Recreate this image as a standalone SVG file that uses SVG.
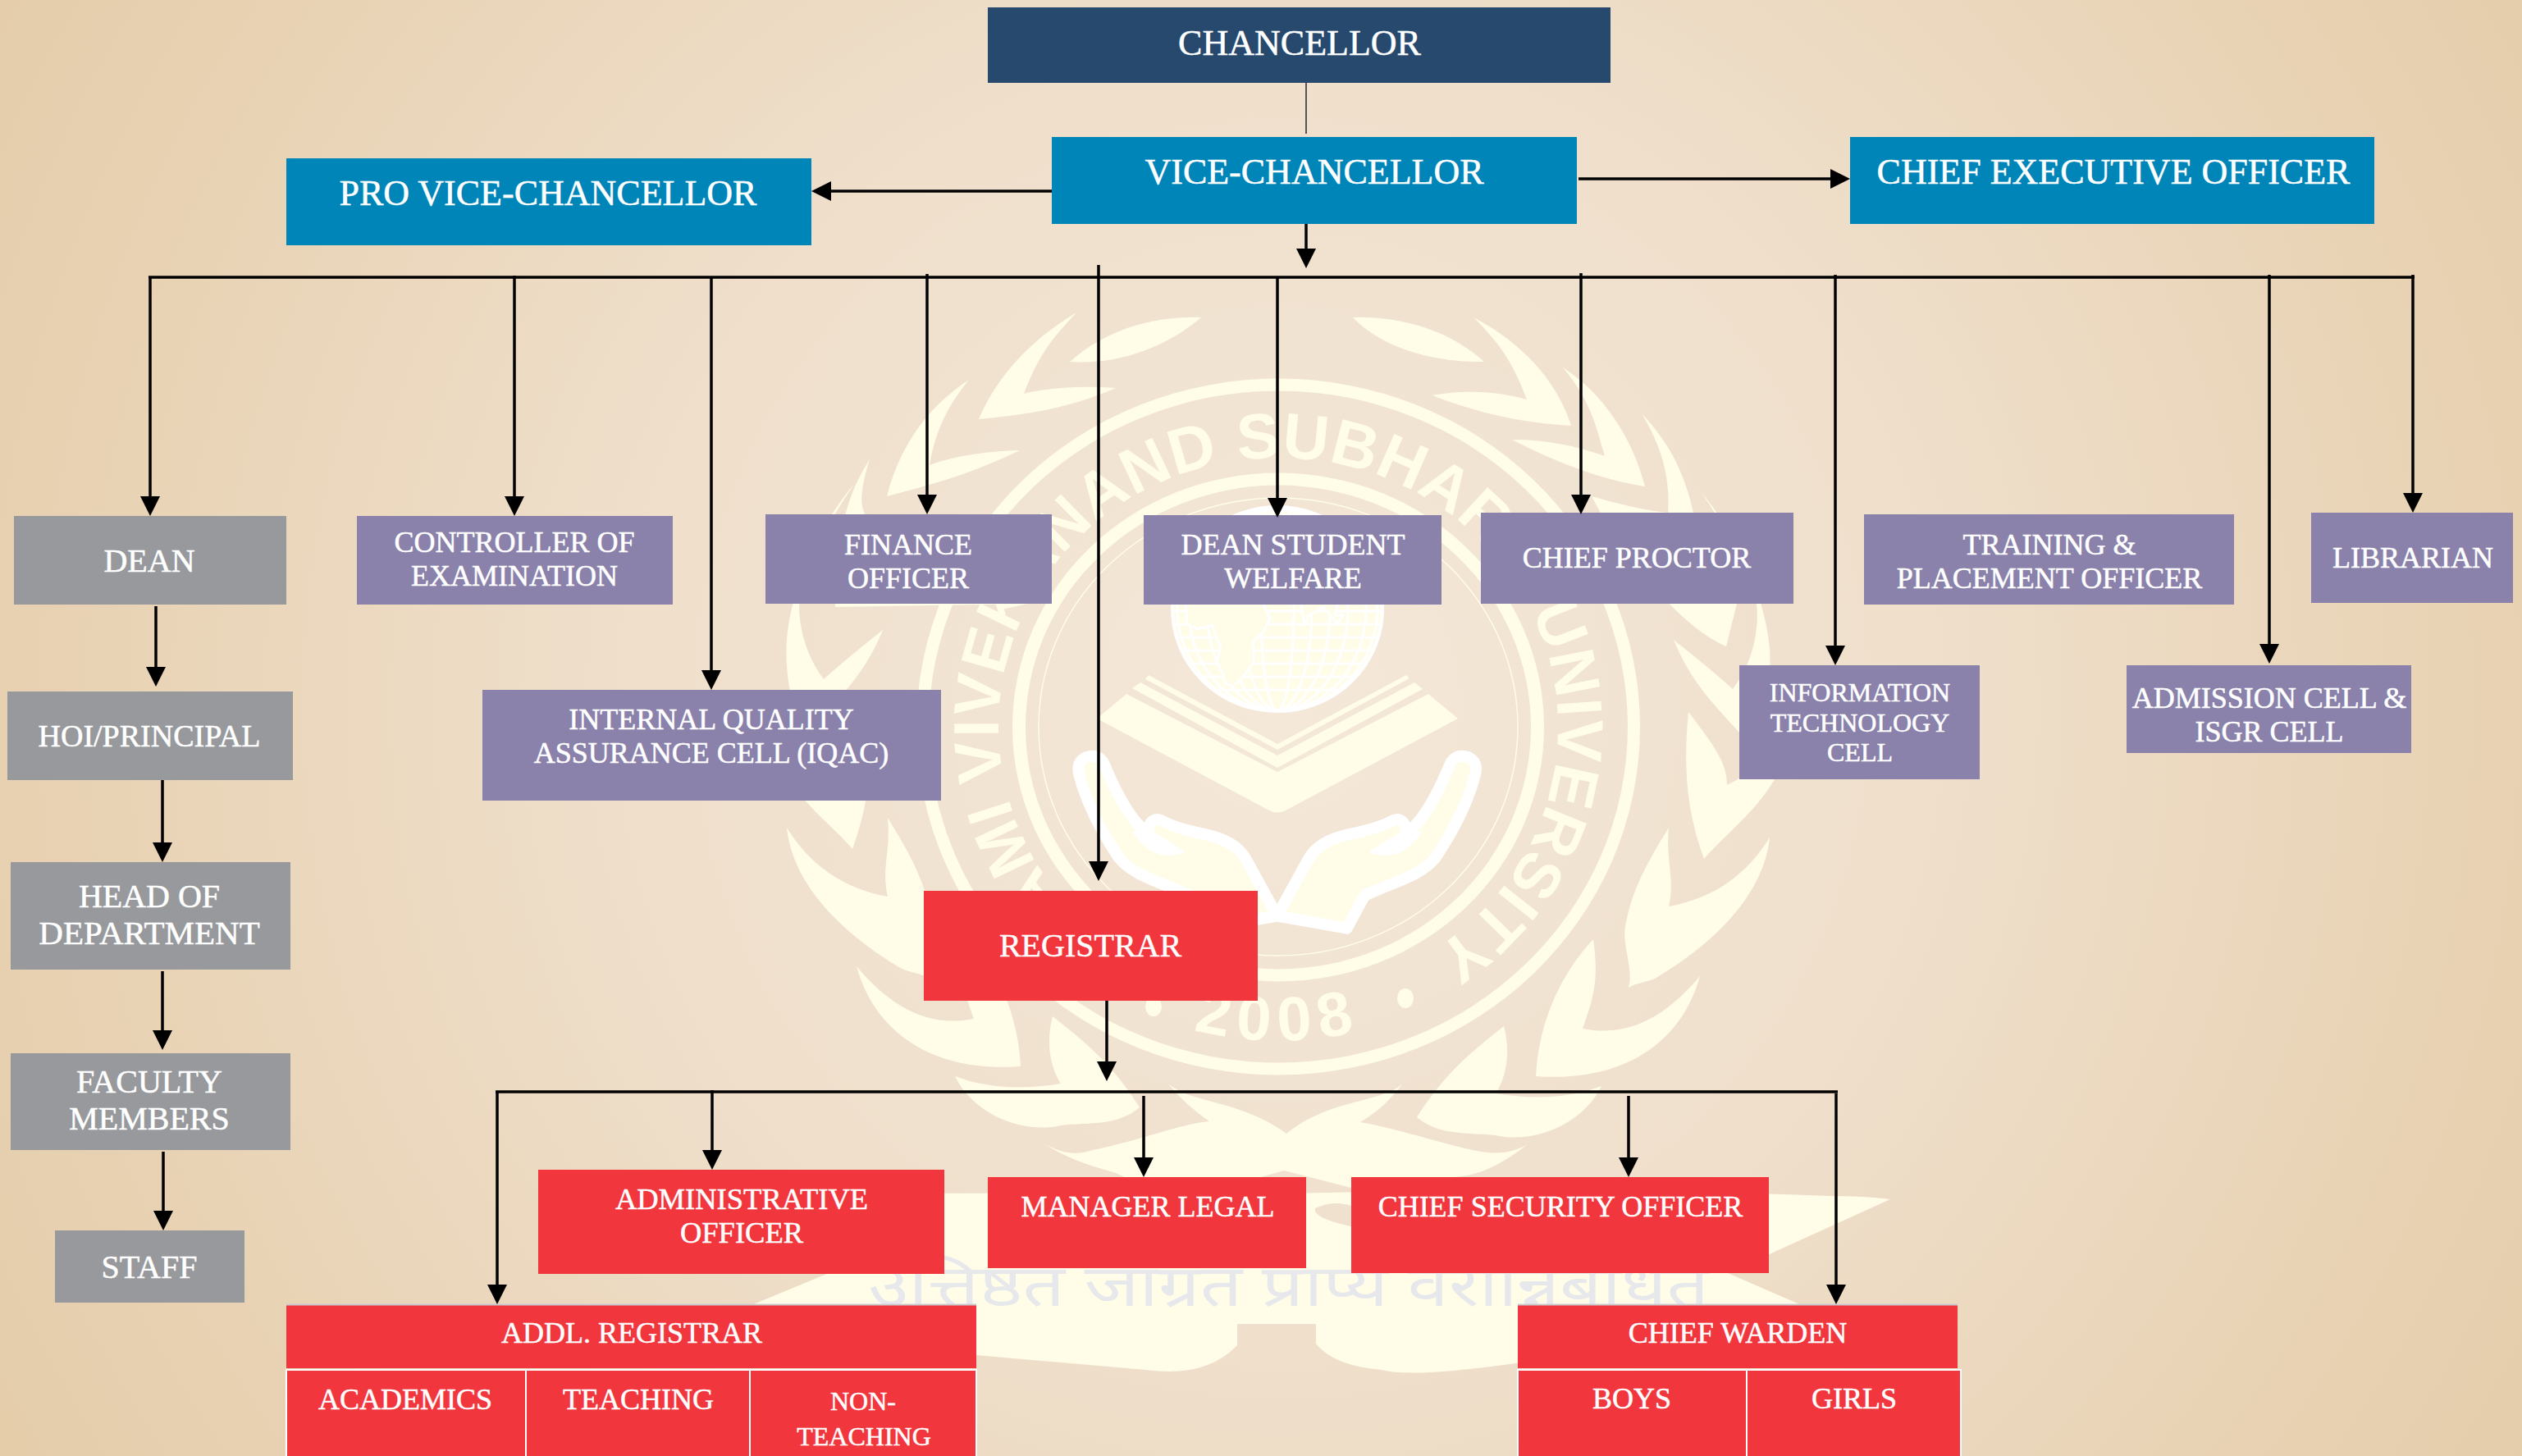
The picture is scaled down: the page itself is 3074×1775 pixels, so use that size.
<svg xmlns="http://www.w3.org/2000/svg" width="3074" height="1775" viewBox="0 0 3074 1775">
<style>
.n text{font-family:"Liberation Serif","Times New Roman",serif;fill:#fff;stroke:#fff;stroke-width:.5;text-anchor:middle}
.s36 text{font-size:36px}.s40 text{font-size:40px}.s44 text{font-size:44px}.s32 text{font-size:32px}
.navy{fill:#26496d}.blue{fill:#0085b9}.pur{fill:#8a82ab}.gray{fill:#97999d}.red{fill:#f1373d}
.cell{fill:#f1373d;stroke:#fff;stroke-width:2}
.wm{fill:#fffce8}
.c line{stroke:#000;stroke-width:3.5;fill:none}
.c line.a{marker-end:url(#ah)}
</style>
<defs>
<radialGradient id="bg" gradientUnits="userSpaceOnUse" cx="1560" cy="860" r="1850">
<stop offset="0" stop-color="#f4e8d9"/><stop offset=".43" stop-color="#efdfcb"/><stop offset=".8" stop-color="#e8d2b3"/><stop offset="1" stop-color="#e4cca8"/>
</radialGradient>
<marker id="ah" markerUnits="userSpaceOnUse" markerWidth="24" markerHeight="24" refX="20" refY="12" orient="auto"><path d="M0 0L24 12L0 24Z" fill="#000"/></marker>
<clipPath id="gc"><ellipse cx="1557" cy="742.5" rx="128" ry="124.5"/></clipPath>
<path id="ringp" d="M1392.700 1172.900A341 328 0 1 1 1723.300 1172.900"/>
<path id="yearp" d="M1302 1179A398 383 0 0 0 1814 1179"/>
<g id="lowwreath">
<path d="M2075 602C2115 650 2150 720 2157 790C2160 840 2150 880 2130 915L2120 893C2090 860 2060 830 2040 780C2065 800 2090 820 2112 840C2135 810 2145 770 2141 736C2125 680 2100 640 2075 602Z"/>
<path d="M2058 868C2090 910 2105 930 2105 957C2130 945 2150 930 2175 900L2163 950C2140 990 2100 1020 2077 1047C2060 1000 2050 950 2058 868Z"/>
<path d="M2157 1021C2150 1090 2090 1150 2017 1193C2005 1198 1995 1198 1985 1204C1992 1180 1975 1150 1982 1125C1990 1080 2015 1040 2034 1009C2030 1050 2042 1070 2034 1105C2090 1095 2130 1065 2157 1021Z"/>
<path d="M2072 1190C2050 1270 1980 1320 1872 1312C1875 1250 1900 1190 1942 1145C1948 1190 1945 1210 1929 1254C1985 1265 2030 1240 2072 1190Z"/>
<path d="M1952 1324C1930 1370 1870 1395 1823 1384C1785 1380 1755 1385 1727 1362C1760 1310 1790 1285 1833 1251C1842 1285 1835 1315 1823 1333C1865 1340 1910 1340 1952 1324Z"/>
</g>
<g id="hand">
<path d="M770 1160L880 960C910 900 970 875 1040 860C1110 845 1160 830 1195 810C1220 800 1240 820 1240 845C1260 860 1330 780 1400 610C1405 595 1420 575 1445 575C1470 575 1505 590 1495 640C1470 740 1420 840 1350 945C1300 1010 1210 1030 1090 1085L1025 1205L770 1160Z" fill="#fffce8" stroke="#fff" stroke-width="42" stroke-linejoin="round"/>
<path d="M1240 850L1118 925C1190 945 1240 925 1290 855Z" fill="#fff" stroke="#fff" stroke-width="14" stroke-linejoin="round"/>
</g>
</defs>
<rect width="3074" height="1775" fill="url(#bg)"/>
<g id="watermark">
<g class="wm">
<path d="M1649 387C1710 385 1770 405 1809 441C1760 442 1690 430 1649 387Z"/>
<path d="M1796 387C1860 420 1900 470 1915 519C1850 515 1800 503 1746 482C1790 474 1830 478 1861 487C1845 445 1830 420 1796 387Z"/>
<path d="M1905 448C1955 480 1990 535 2005 593C1950 584 1900 565 1843 536C1885 536 1920 543 1956 556C1945 520 1940 490 1905 448Z"/>
<path d="M2001 504C2030 535 2052 570 2064 625L2117 736L2104 788C2060 770 1990 700 1940 605C1965 612 2000 622 2033 625C2036 580 2025 545 2001 504Z"/>
<path d="M1304 441C1350 400 1410 385 1464 387C1420 425 1360 445 1304 441Z"/>
<path d="M1312 381C1255 415 1215 460 1193 511C1260 505 1310 495 1360 473C1320 470 1280 472 1248 480C1265 435 1280 415 1312 381Z"/>
<path d="M1181 463C1125 500 1095 550 1081 605C1140 590 1190 575 1243 549C1205 550 1165 555 1133 567C1140 525 1155 495 1181 463Z"/>
<path d="M1060 560C1035 600 1020 640 1018 740L1253 736L1100 650C1050 640 1040 625 1060 560Z"/>
<use href="#lowwreath"/>
<use href="#lowwreath" transform="matrix(-1 0 0 1 3116 -12)"/>
<path d="M1271 1393C1295 1408 1315 1408 1332 1402C1390 1390 1440 1370 1474 1367C1450 1350 1435 1335 1424 1321C1450 1345 1510 1340 1568 1382C1620 1340 1680 1345 1709 1322C1695 1340 1680 1355 1658 1368C1700 1375 1760 1395 1800 1403C1825 1408 1845 1405 1862 1395C1830 1420 1800 1435 1768 1435C1730 1452 1690 1460 1647 1448L1565 1427L1490 1448C1440 1460 1400 1450 1360 1430C1325 1420 1295 1410 1271 1393Z"/>
<path fill-rule="evenodd" d="M1500 1457Q1900 1445 2230 1458Q2270 1458 2304 1462L2106 1552L2230 1606L1847 1662Q1720 1680 1684 1670Q1625 1665 1604 1638L1604 1614L1508 1614L1508 1640Q1470 1680 1397 1670L1190 1652L880 1606L1010 1552L812 1462Q1100 1450 1500 1457ZM1603 1473C1625 1463 1640 1468 1647 1470L1647 1495C1625 1490 1600 1483 1603 1473Z"/>
<path fill-rule="evenodd" d="M1117 886a441 424.5 0 1 0 882 0a441 424.5 0 1 0 -882 0ZM1132 886a426 409.5 0 1 1 852 0a426 409.5 0 1 1 -852 0Z"/>
<path fill-rule="evenodd" d="M1234 886.500a324 310 0 1 0 648 0a324 310 0 1 0 -648 0ZM1250 886.500a308 295 0 1 1 616 0a308 295 0 1 1 -616 0Z"/>
<polygon points="1400,823 1557,907 1714,823 1718,827 1557,914 1396,828"/>
<polygon points="1390,832 1557,921 1724,832 1734,840 1557,936 1380,839"/>
<path d="M1373 846L1557 941L1741 846L1777 876L1567 988Q1557 993 1547 988L1337 876Z"/>
<ellipse cx="1713" cy="1217" rx="10" ry="12"/><ellipse cx="1406" cy="1227" rx="10" ry="12"/>
</g>
<ellipse cx="1558" cy="886" rx="292" ry="279" fill="none" stroke="#fffce8" stroke-width="1.500"/>
<ellipse cx="1557" cy="742.5" rx="128" ry="124.5" fill="#fffce8" stroke="#fff" stroke-width="4"/>
<g clip-path="url(#gc)" fill="none" stroke="#fff" stroke-width="3">
<path d="M1430 633H1685M1430 649H1685M1430 665H1685M1430 681H1685M1430 697H1685M1430 713H1685M1430 729H1685M1430 745H1685M1430 761H1685M1430 777H1685M1430 793H1685M1430 809H1685M1430 825H1685M1430 841H1685"/>
<ellipse cx="1557" cy="742.500" rx="20" ry="124"/><ellipse cx="1557" cy="742.500" rx="42" ry="124"/><ellipse cx="1557" cy="742.500" rx="64" ry="124"/><ellipse cx="1557" cy="742.500" rx="86" ry="124"/><ellipse cx="1557" cy="742.500" rx="108" ry="124"/><ellipse cx="1557" cy="742.500" rx="122" ry="124"/>
</g>
<g clip-path="url(#gc)" fill="#fffce8" stroke="#fff" stroke-width="3" stroke-linejoin="round">
<path d="M1443 700L1447 760L1460 767L1477 762L1488 790L1483 807L1490 820L1493 833L1503 837L1517 823L1528 807L1528 793L1527 783L1540 770L1548 754L1523 700Z"/>
<path d="M1580 700L1590 763L1595 750L1613 740L1630 760L1637 750L1627 750L1640 700Z"/>
</g>
<g transform="translate(1300 730) scale(.33333)"><use href="#hand"/><use href="#hand" transform="matrix(-1 0 0 1 1540 0)"/></g>
<text font-family="Liberation Sans, Arial, sans-serif" font-weight="700" font-size="78" class="wm" textLength="1729" lengthAdjust="spacing"><textPath href="#ringp">SWAMI VIVEKANAND SUBHARTI UNIVERSITY</textPath></text>
<text font-family="Liberation Sans, Arial, sans-serif" font-weight="700" font-size="76" class="wm" text-anchor="middle" letter-spacing="10"><textPath href="#yearp" startOffset="50%">2008</textPath></text>
<text x="1058" y="1592" font-family="Noto Sans Devanagari, Noto Sans, DejaVu Sans, sans-serif" font-size="70" fill="#e7e8ec" textLength="1025" lengthAdjust="spacingAndGlyphs">उत्तिष्ठत जाग्रत प्राप्य वरान्निबोधत</text>
</g>
<g id="chancellor" class="n s44"><rect class="navy" x="1204" y="9" width="759" height="92"/><text x="1584" y="67">CHANCELLOR</text></g>
<g id="vice-chancellor" class="n s44"><rect class="blue" x="1282" y="167" width="640" height="106"/><text x="1602" y="224">VICE-CHANCELLOR</text></g>
<g id="pro-vice-chancellor" class="n s44"><rect class="blue" x="349" y="193" width="640" height="106"/><text x="668" y="250">PRO VICE-CHANCELLOR</text></g>
<g id="ceo" class="n s44"><rect class="blue" x="2255" y="167" width="639" height="106"/><text x="2576" y="224">CHIEF EXECUTIVE OFFICER</text></g>
<g id="dean" class="n s40"><rect class="gray" x="17" y="629" width="332" height="108"/><text x="182" y="697">DEAN</text></g>
<g id="hoi" class="n s40"><rect class="gray" x="9" y="843" width="348" height="108"/><text x="182" y="910" style="font-size:38px">HOI/PRINCIPAL</text></g>
<g id="hod" class="n s40"><rect class="gray" x="13" y="1051" width="341" height="131"/><text x="182" y="1106">HEAD OF</text><text x="182" y="1151" style="font-size:41px">DEPARTMENT</text></g>
<g id="faculty" class="n s40"><rect class="gray" x="13" y="1284" width="341" height="118"/><text x="182" y="1332">FACULTY</text><text x="182" y="1377">MEMBERS</text></g>
<g id="staff" class="n s40"><rect class="gray" x="67" y="1500" width="231" height="88"/><text x="182" y="1558">STAFF</text></g>
<g id="controller" class="n s36"><rect class="pur" x="435" y="629" width="385" height="108"/><text x="627" y="673">CONTROLLER OF</text><text x="627" y="714">EXAMINATION</text></g>
<g id="iqac" class="n s36"><rect class="pur" x="588" y="841" width="559" height="135"/><text x="867" y="889">INTERNAL QUALITY</text><text x="867" y="930">ASSURANCE CELL (IQAC)</text></g>
<g id="finance" class="n s36"><rect class="pur" x="933" y="627" width="349" height="109"/><text x="1107" y="676">FINANCE</text><text x="1107" y="717">OFFICER</text></g>
<g id="dean-student" class="n s36"><rect class="pur" x="1394" y="628" width="363" height="109"/><text x="1576" y="676">DEAN STUDENT</text><text x="1576" y="717">WELFARE</text></g>
<g id="proctor" class="n s36"><rect class="pur" x="1805" y="625" width="381" height="111"/><text x="1995" y="692">CHIEF PROCTOR</text></g>
<g id="training" class="n s36"><rect class="pur" x="2272" y="627" width="451" height="110"/><text x="2498" y="676">TRAINING &amp;</text><text x="2498" y="717">PLACEMENT OFFICER</text></g>
<g id="librarian" class="n s36"><rect class="pur" x="2817" y="625" width="246" height="110"/><text x="2941" y="692">LIBRARIAN</text></g>
<g id="it-cell" class="n s32"><rect class="pur" x="2120" y="811" width="293" height="139"/><text x="2267" y="855">INFORMATION</text><text x="2267" y="892">TECHNOLOGY</text><text x="2267" y="928">CELL</text></g>
<g id="admission" class="n s36"><rect class="pur" x="2592" y="811" width="347" height="107"/><text x="2766" y="863">ADMISSION CELL &amp;</text><text x="2766" y="904">ISGR CELL</text></g>
<g id="registrar" class="n s40"><rect class="red" x="1126" y="1086" width="407" height="134"/><text x="1329" y="1166">REGISTRAR</text></g>
<g id="admin-officer" class="n s36"><rect class="red" x="656" y="1426" width="495" height="127"/><text x="904" y="1474" style="font-size:36.5px">ADMINISTRATIVE</text><text x="904" y="1515" style="font-size:36.5px">OFFICER</text></g>
<g id="manager-legal" class="n s36"><rect class="red" x="1204" y="1435" width="388" height="111"/><text x="1399" y="1483">MANAGER LEGAL</text></g>
<g id="security" class="n s36"><rect class="red" x="1647" y="1435" width="509" height="117"/><text x="1902" y="1483">CHIEF SECURITY OFFICER</text></g>
<g id="addl-registrar" class="n s36"><rect class="red" x="349" y="1591" width="841" height="77"/><path d="M349 1590.500H1190" stroke="#c9c9d0" stroke-width="2"/><text x="770" y="1637">ADDL. REGISTRAR</text>
<rect class="cell" x="349" y="1670" width="292" height="120"/><rect class="cell" x="641" y="1670" width="273" height="120"/><rect class="cell" x="914" y="1670" width="276" height="120"/>
<text x="494" y="1718">ACADEMICS</text><text x="778" y="1718">TEACHING</text><text x="1052" y="1719" style="font-size:32px">NON-</text><text x="1053" y="1762" style="font-size:32px">TEACHING</text></g>
<g id="chief-warden" class="n s36"><rect class="red" x="1850" y="1591" width="536" height="77"/><path d="M1850 1590.500H2386" stroke="#c9c9d0" stroke-width="2"/><text x="2118" y="1637">CHIEF WARDEN</text>
<rect class="cell" x="1850" y="1670" width="279" height="120"/><rect class="cell" x="2129" y="1670" width="261" height="120"/>
<text x="1989" y="1717">BOYS</text><text x="2260" y="1717">GIRLS</text></g>
<g id="connectors" class="c">
<line x1="1592" y1="101" x2="1592" y2="163" style="stroke:#555;stroke-width:2"/>
<line class="a" x1="1592" y1="273" x2="1592" y2="323"/>
<line class="a" x1="1282" y1="233" x2="993" y2="233"/>
<line class="a" x1="1924" y1="218" x2="2251" y2="218"/>
<line x1="181" y1="338" x2="2943" y2="338"/>
<line class="a" x1="183" y1="338" x2="183" y2="625"/>
<line class="a" x1="627" y1="336" x2="627" y2="625"/>
<line class="a" x1="867" y1="338" x2="867" y2="837"/>
<line class="a" x1="1130" y1="334" x2="1130" y2="623"/>
<line class="a" x1="1339" y1="323" x2="1339" y2="1070"/>
<line class="a" x1="1557" y1="338" x2="1557" y2="627"/>
<line class="a" x1="1927" y1="333" x2="1927" y2="623"/>
<line class="a" x1="2237" y1="335" x2="2237" y2="807"/>
<line class="a" x1="2766" y1="335" x2="2766" y2="805"/>
<line class="a" x1="2941" y1="335" x2="2941" y2="621"/>
<line class="a" x1="190" y1="739" x2="190" y2="833"/>
<line class="a" x1="198" y1="951" x2="198" y2="1047"/>
<line class="a" x1="198" y1="1184" x2="198" y2="1276"/>
<line class="a" x1="199" y1="1404" x2="199" y2="1496"/>
<line class="a" x1="1349" y1="1220" x2="1349" y2="1314"/>
<line x1="604" y1="1331" x2="2240" y2="1331"/>
<line class="a" x1="606" y1="1331" x2="606" y2="1586"/>
<line class="a" x1="868" y1="1329" x2="868" y2="1422"/>
<line class="a" x1="1394" y1="1336" x2="1394" y2="1431"/>
<line class="a" x1="1985" y1="1336" x2="1985" y2="1431"/>
<line class="a" x1="2238" y1="1333" x2="2238" y2="1586"/>
</g>
</svg>
